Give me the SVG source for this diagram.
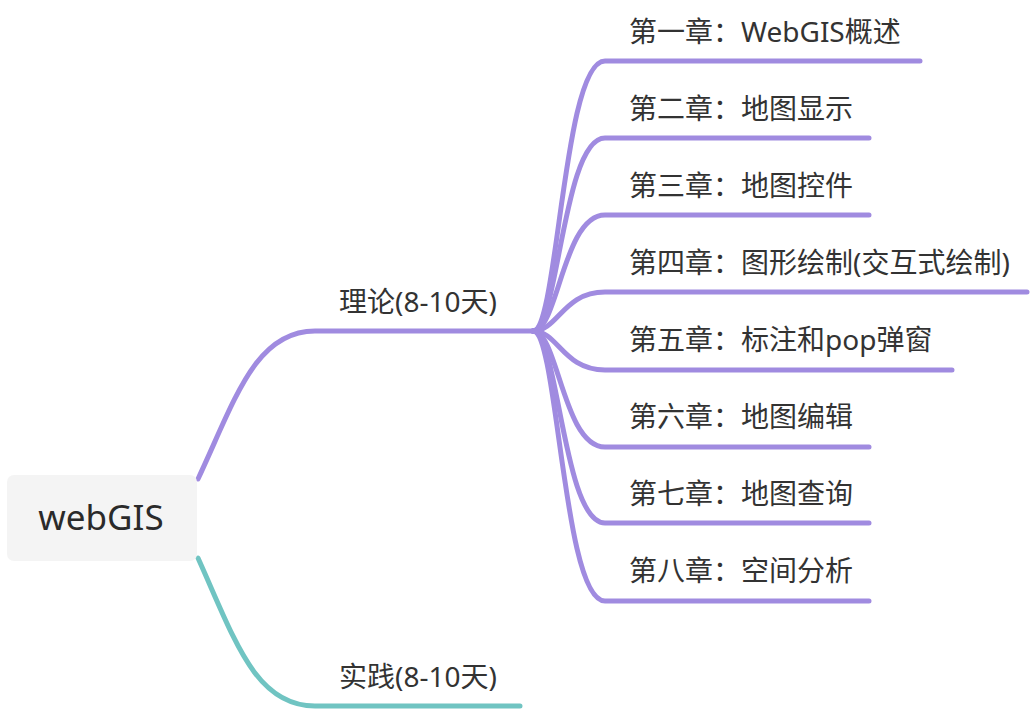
<svg xmlns="http://www.w3.org/2000/svg" width="1034" height="710" viewBox="0 0 1034 710">
<style>
.t{font-family:"Noto Sans","Noto Sans CJK SC",sans-serif;font-size:28px;fill:#333333}
.root{font-family:"Noto Sans","Noto Sans CJK SC",sans-serif;font-size:35px;fill:#2a2a2a}
.p{fill:none;stroke:#a08be0;stroke-width:5;stroke-linecap:round}
.g{fill:none;stroke:#70c4c2;stroke-width:5;stroke-linecap:round}
</style>
<rect width="1034" height="710" fill="#ffffff"/>
<g id="connectors">
<path class="p" d="M198,479 C235,400 255,331 315,331 L533,331"/>
<path class="g" d="M198,558 C235,640 255,706 315,706 L520,706"/>
<path class="p" d="M533,331 C558,331 563,61 605,61 L920,61"/>
<path class="p" d="M533,331 C558,331 563,138 605,138 L869,138"/>
<path class="p" d="M533,331 C558,331 563,215 605,215 L869,215"/>
<path class="p" d="M533,331 C558,331 563,292 605,292 L1027,292"/>
<path class="p" d="M533,331 C558,331 563,370 605,370 L952,370"/>
<path class="p" d="M533,331 C558,331 563,447 605,447 L869,447"/>
<path class="p" d="M533,331 C558,331 563,523 605,523 L869,523"/>
<path class="p" d="M533,331 C558,331 563,601 605,601 L869,601"/>
</g>
<g id="root">
<rect x="7" y="475" width="190" height="86" rx="7" fill="#f4f4f4"/>
<text class="root" x="101" y="530" text-anchor="middle">webGIS</text>
</g>
<g id="theory"><text class="t" x="339" y="312">理论(8-10天)</text></g>
<g id="practice"><text class="t" x="339" y="687">实践(8-10天)</text></g>
<g id="ch1"><text class="t" x="629" y="42">第一章：WebGIS概述</text></g>
<g id="ch2"><text class="t" x="629" y="119">第二章：地图显示</text></g>
<g id="ch3"><text class="t" x="629" y="196">第三章：地图控件</text></g>
<g id="ch4"><text class="t" x="629" y="273">第四章：图形绘制(交互式绘制)</text></g>
<g id="ch5"><text class="t" x="629" y="350">第五章：标注和pop弹窗</text></g>
<g id="ch6"><text class="t" x="629" y="427">第六章：地图编辑</text></g>
<g id="ch7"><text class="t" x="629" y="504">第七章：地图查询</text></g>
<g id="ch8"><text class="t" x="629" y="581">第八章：空间分析</text></g>
</svg>
